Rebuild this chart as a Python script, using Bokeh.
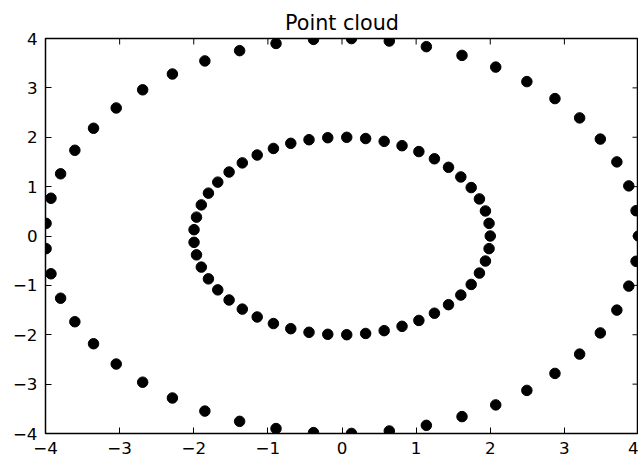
from bokeh.plotting import figure
from bokeh.models import Range1d, FixedTicker, ColumnDataSource
from bokeh.embed import file_html
from bokeh.resources import INLINE
import math

# ---- data ----
inner_x = [2.000, 1.984, 1.935, 1.854, 1.743, 1.603, 1.437, 1.247, 1.037, 0.810,
           0.569, 0.319, 0.064, -0.192, -0.445, -0.691, -0.925, -1.144, -1.345, -1.523,
           -1.676, -1.802, -1.898, -1.963, -1.996,
           -1.996, -1.963, -1.898, -1.802, -1.676, -1.523, -1.345, -1.144, -0.925, -0.691,
           -0.445, -0.192, 0.064, 0.319, 0.569, 0.810, 1.037, 1.247, 1.437, 1.603,
           1.743, 1.854, 1.935, 1.984]
inner_y = [0.000, 0.256, 0.507, 0.751, 0.981, 1.196, 1.391, 1.564, 1.710, 1.829,
           1.917, 1.974, 1.999, 1.991, 1.950, 1.877, 1.773, 1.640, 1.481, 1.296,
           1.091, 0.868, 0.630, 0.382, 0.128,
           -0.128, -0.382, -0.630, -0.868, -1.091, -1.296, -1.481, -1.640, -1.773, -1.877,
           -1.950, -1.991, -1.999, -1.974, -1.917, -1.829, -1.710, -1.564, -1.391, -1.196,
           -0.981, -0.751, -0.507, -0.256]
outer_x = [4.000, 3.967, 3.869, 3.708, 3.485, 3.206, 2.873, 2.494, 2.074, 1.619,
           1.138, 0.638, 0.128, -0.384, -0.890, -1.381, -1.850, -2.288, -2.689, -3.046,
           -3.352, -3.604, -3.796, -3.926, -3.992,
           -3.992, -3.926, -3.796, -3.604, -3.352, -3.046, -2.689, -2.288, -1.850, -1.381,
           -0.890, -0.384, 0.128, 0.638, 1.138, 1.619, 2.074, 2.494, 2.873, 3.206,
           3.485, 3.708, 3.869, 3.967]
outer_y = [0.000, 0.512, 1.015, 1.501, 1.963, 2.392, 2.783, 3.127, 3.421, 3.658,
           3.835, 3.949, 3.998, 3.982, 3.900, 3.754, 3.546, 3.281, 2.961, 2.593,
           2.182, 1.736, 1.260, 0.765, 0.256,
           -0.256, -0.765, -1.260, -1.736, -2.182, -2.593, -2.961, -3.281, -3.546, -3.754,
           -3.900, -3.982, -3.998, -3.949, -3.835, -3.658, -3.421, -3.127, -2.783, -2.392,
           -1.963, -1.501, -1.015, -0.512]
x_ticks = [-4, -3, -2, -1, 0, 1, 2, 3, 4]
y_ticks = [-4, -3, -2, -1, 0, 1, 2, 3, 4]
x_lim = [-4, 4]
y_lim = [-4, 4]
title_text = "Point cloud"

FONT = "DejaVu Sans"
TICK_LEN = 6

p = figure(width=638, height=456,
           x_range=Range1d(x_lim[0], x_lim[1]), y_range=Range1d(y_lim[0], y_lim[1]),
           output_backend="svg", toolbar_location=None,
           min_border_left=45, min_border_right=0,
           min_border_top=38, min_border_bottom=22)

p.grid.visible = False
p.background_fill_color = "white"
p.border_fill_color = "white"
p.outline_line_color = "black"
p.outline_line_width = 1.5

p.title.text = title_text
p.title.align = "center"
p.title.text_font = FONT
p.title.text_font_size = "20.7px"
p.title.text_font_style = "normal"
p.title.text_color = "black"
p.title.standoff = 8


def labels(ticks):
    return {t: str(t).replace("-", "\u2212") for t in ticks}


def style(axis, ticks, standoff):
    axis.ticker = FixedTicker(ticks=ticks)
    axis.axis_line_color = None
    axis.major_tick_in = TICK_LEN
    axis.major_tick_out = 0
    axis.major_tick_line_color = "black"
    axis.major_tick_line_width = 1
    axis.minor_tick_line_color = None
    axis.major_label_text_font = FONT
    axis.major_label_text_color = "black"
    axis.major_label_text_font_size = "16.7px"
    axis.major_label_overrides = labels(ticks)
    axis.major_label_standoff = standoff


style(p.xaxis[0], x_ticks, 8)
style(p.yaxis[0], y_ticks, 8)

# inward ticks on the top and right edges (dash markers clipped by the frame)
top_src = ColumnDataSource(dict(x=x_ticks, y=[y_lim[1]] * len(x_ticks)))
right_src = ColumnDataSource(dict(x=[x_lim[1]] * len(y_ticks), y=y_ticks))
p.scatter("x", "y", source=top_src, marker="dash", size=2 * TICK_LEN,
          angle=math.pi / 2, line_color="black", line_width=1)
p.scatter("x", "y", source=right_src, marker="dash", size=2 * TICK_LEN,
          line_color="black", line_width=1)

src_in = ColumnDataSource(dict(x=inner_x, y=inner_y))
src_out = ColumnDataSource(dict(x=outer_x, y=outer_y))
p.scatter("x", "y", source=src_out, size=10.5, fill_color="black", line_color="black")
p.scatter("x", "y", source=src_in, size=10.5, fill_color="black", line_color="black")

open("out.html", "w").write(file_html(p, INLINE))
